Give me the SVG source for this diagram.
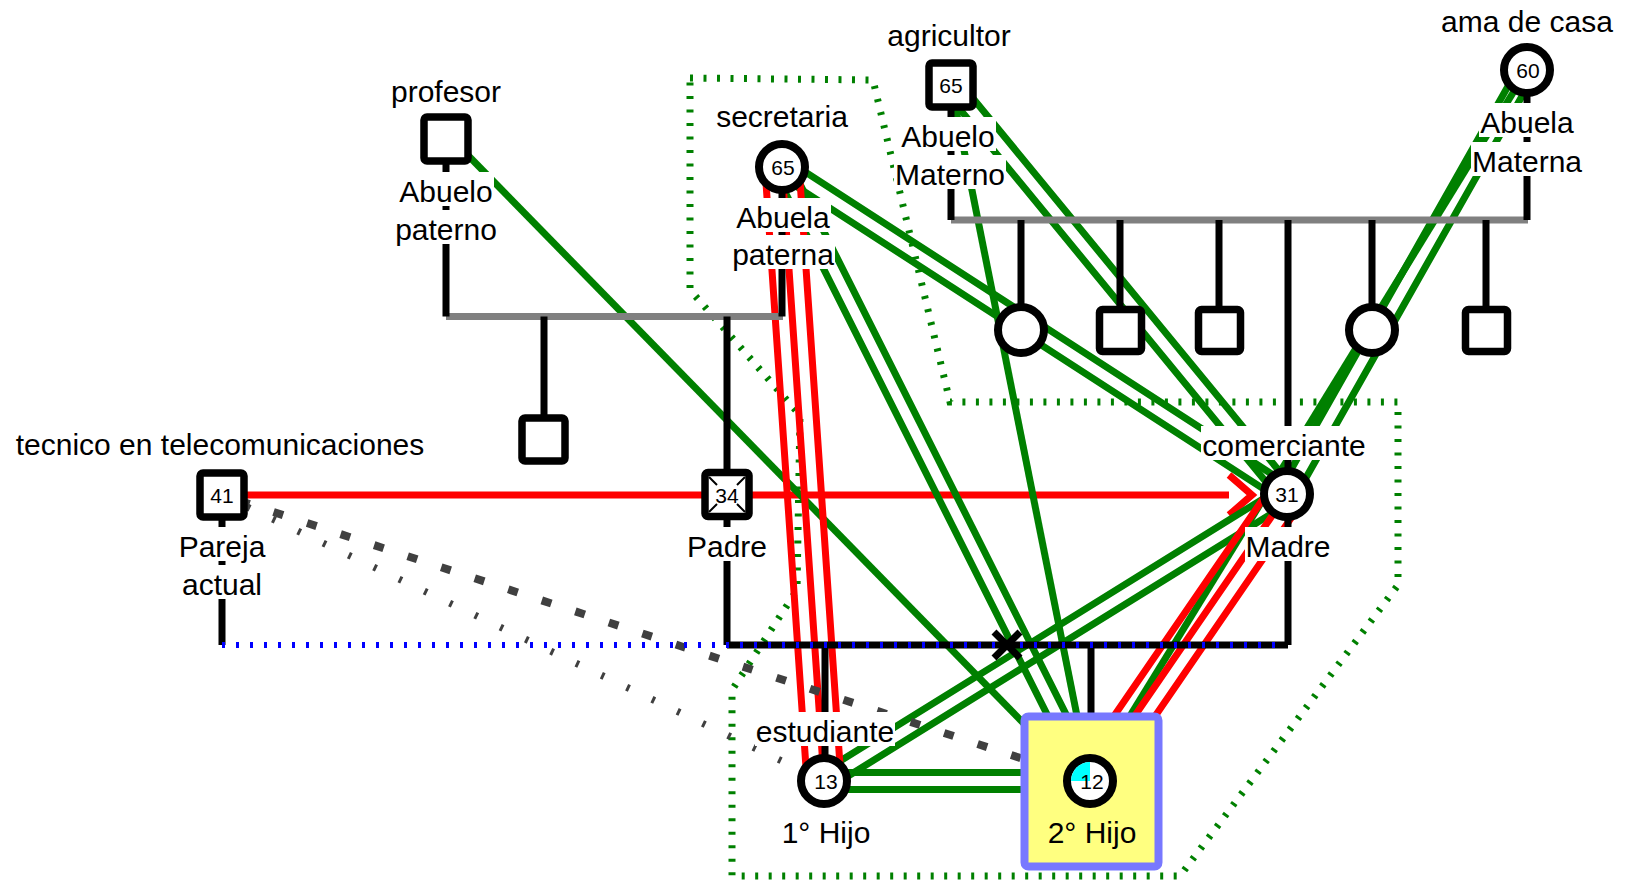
<svg xmlns="http://www.w3.org/2000/svg" width="1625" height="881" viewBox="0 0 1625 881">
<style>
.g{stroke:#008000;stroke-width:7;fill:none}
.r{stroke:#ff0000;stroke-width:7;fill:none}
.k{stroke:#000;stroke-width:7;fill:none}
.gr{stroke:#808080;stroke-width:7;fill:none}
.sq{fill:#fff;stroke:#000;stroke-width:7.5}
.ci{fill:#fff;stroke:#000;stroke-width:8}
.t{font-family:"Liberation Sans",Arial,sans-serif;font-size:30px;text-anchor:middle;fill:#000}
.n{font-family:"Liberation Sans",Arial,sans-serif;font-size:21px;text-anchor:middle;fill:#000}
.lb{fill:#fff}
.hh{stroke:#008000;stroke-width:7;fill:none;stroke-dasharray:3 10.5}
</style>
<rect width="1625" height="881" fill="#fff"/>
<g id="household">
<path class="hh" d="M690,78 L873,80 L950,402 L1398,402 L1398,585 L1180,876 L732,876 L732,690 L797,590 L800,415 L690,290 Z"/>
</g>
<g id="connectors">
<path class="r" d="M222,495 H1229"/>
<polyline class="r" points="1229,475 1252,495 1229,515"/>
<path class="g" d="M452,139 L1080,781"/>
<path class="g" d="M951,85 L1090,781"/>
<path class="g" d="M1527,70 L1090,781"/>
<path class="g" d="M777.4,174.1 L1282.4,501.1 M786.6,159.9 L1291.6,486.9"/>
<path class="g" d="M774.4,170.8 L1082.4,784.8 M789.6,163.2 L1097.6,777.2"/>
<path class="g" d="M944.4,90.4 L1280.4,499.4 M957.6,79.6 L1293.6,488.6"/>
<path class="g" d="M1534.4,74.2 L1294.4,498.2 M1519.6,65.8 L1279.6,489.8"/>
<path class="g" d="M1291.5,501.2 L828.5,788.2 M1282.5,486.8 L819.5,773.8"/>
<path class="g" d="M824,772.5 H1090 M824,789.5 H1090"/>
<path class="r" d="M782,167 L824,781 M799,165.8 L841,779.8 M765,168.2 L807,782.2"/>
<path class="r" d="M1287,494 L1090,781 M1301,503.6 L1104,790.6 M1273,484.4 L1076,771.4"/>
<path d="M222,495 L1090,781" stroke="#404040" stroke-width="8" fill="none" stroke-dasharray="10 25.3" stroke-dashoffset="-19"/>
<path d="M222,495 L824,781" stroke="#404040" stroke-width="7" fill="none" stroke-dasharray="3 25"/>
<path class="gr" d="M446,316.5 H783"/>
<path class="gr" d="M951,220 H1528"/>
<path class="k" d="M446,160 V316.5 M782,190 V316.5 M544,316.5 V418 M727,316.5 V472 M727,517 V645"/>
<path class="k" d="M951,105 V220 M1527,95 V220"/>
<path class="k" d="M1021,220 V305 M1120,220 V309 M1219,220 V309 M1288,220 V468 M1372,220 V305 M1486,220 V309"/>
<path class="k" d="M1288,518 V645 M222,517 V645"/>
<path class="k" d="M727,645 H1288"/>
<path class="k" d="M825,645 V760 M1091,645 V716"/>
<path d="M222,645 H1286" stroke="#0000ff" stroke-width="6" fill="none" stroke-dasharray="3 11"/>
<path class="k" d="M994,632 L1020,658 M994,658 L1020,632"/>
</g>
<g id="n-abuelo-paterno">
<rect class="lb" x="390" y="72" width="112" height="34"/>
<text class="t" x="446" y="102">profesor</text>
<rect class="sq" x="424" y="117" width="44" height="44" rx="3"/>
<rect class="lb" x="398" y="172" width="96" height="34"/>
<text class="t" x="446" y="202">Abuelo</text>
<rect class="lb" x="394" y="210" width="104" height="34"/>
<text class="t" x="446" y="240">paterno</text>
</g>
<g id="n-abuela-paterna">
<rect class="lb" x="715" y="97" width="134" height="34"/>
<text class="t" x="782" y="127">secretaria</text>
<circle class="ci" cx="782" cy="167" r="23"/>
<text class="n" x="783" y="174.5">65</text>
<rect class="lb" x="735" y="198" width="96" height="34"/>
<text class="t" x="783" y="228">Abuela</text>
<rect class="lb" x="731" y="235" width="104" height="34"/>
<text class="t" x="783" y="265">paterna</text>
</g>
<g id="n-tio-paterno">
<rect class="sq" x="522" y="418" width="43" height="43" rx="3"/>
</g>
<g id="n-abuelo-materno">
<rect class="lb" x="886" y="16" width="126" height="34"/>
<text class="t" x="949" y="46">agricultor</text>
<rect class="sq" x="929" y="63" width="44" height="44" rx="3"/>
<text class="n" x="951" y="92.5">65</text>
<rect class="lb" x="900" y="117" width="96" height="34"/>
<text class="t" x="948" y="147">Abuelo</text>
<rect class="lb" x="894" y="155" width="112" height="34"/>
<text class="t" x="950" y="185">Materno</text>
</g>
<g id="n-abuela-materna">
<rect class="lb" x="1440" y="2" width="174" height="34"/>
<text class="t" x="1527" y="32">ama de casa</text>
<circle class="ci" cx="1527" cy="70" r="23"/>
<text class="n" x="1528" y="77.5">60</text>
<rect class="lb" x="1479" y="103" width="96" height="34"/>
<text class="t" x="1527" y="133">Abuela</text>
<rect class="lb" x="1471" y="142" width="112" height="34"/>
<text class="t" x="1527" y="172">Materna</text>
</g>
<g id="n-tia-1"><circle class="ci" cx="1021" cy="330" r="23"/></g>
<g id="n-tio-1"><rect class="sq" x="1099.5" y="309.5" width="42" height="42" rx="3"/></g>
<g id="n-tio-2"><rect class="sq" x="1198.5" y="309.5" width="42" height="42" rx="3"/></g>
<g id="n-tia-2"><circle class="ci" cx="1372" cy="330" r="23"/></g>
<g id="n-tio-3"><rect class="sq" x="1465.5" y="309.5" width="42" height="42" rx="3"/></g>
<g id="n-pareja">
<rect class="lb" x="13" y="425" width="414" height="34"/>
<text class="t" x="220" y="455">tecnico en telecomunicaciones</text>
<rect class="sq" x="200" y="473" width="44" height="44" rx="3"/>
<text class="n" x="222" y="502.5">41</text>
<rect class="lb" x="178" y="527" width="88" height="34"/>
<text class="t" x="222" y="557">Pareja</text>
<rect class="lb" x="181" y="565" width="82" height="34"/>
<text class="t" x="222" y="595">actual</text>
</g>
<g id="n-padre">
<rect class="sq" x="705" y="472.5" width="44" height="44" rx="3"/>
<path d="M709,477 L717,485 M745,477 L737,485 M709,512 L717,504 M745,512 L737,504" stroke="#000" stroke-width="2" fill="none"/>
<text class="n" x="727" y="502.5">34</text>
<rect class="lb" x="686" y="527" width="82" height="34"/>
<text class="t" x="727" y="557">Padre</text>
</g>
<g id="n-madre">
<rect class="lb" x="1201" y="426" width="166" height="34"/>
<text class="t" x="1284" y="456">comerciante</text>
<circle class="ci" cx="1287" cy="494" r="23"/>
<text class="n" x="1287" y="501.5">31</text>
<rect class="lb" x="1245" y="527" width="86" height="34"/>
<text class="t" x="1288" y="557">Madre</text>
</g>
<g id="n-hijo1">
<rect class="lb" x="755" y="712" width="140" height="34"/>
<text class="t" x="825" y="742">estudiante</text>
<circle class="ci" cx="824" cy="781" r="23"/>
<text class="n" x="826" y="788.5">13</text>
<text class="t" x="826" y="843">1° Hijo</text>
</g>
<g id="n-hijo2">
<rect x="1024.5" y="716.5" width="134" height="150" rx="4" fill="#ffff80" stroke="#7878ff" stroke-width="8"/>
<circle class="ci" cx="1090" cy="781" r="23"/>
<path d="M1090,781 L1071,781 A19,19 0 0 1 1090,762 Z" fill="#00ffff"/>
<text class="n" x="1092" y="788.5">12</text>
<text class="t" x="1092" y="843">2° Hijo</text>
</g>
</svg>
